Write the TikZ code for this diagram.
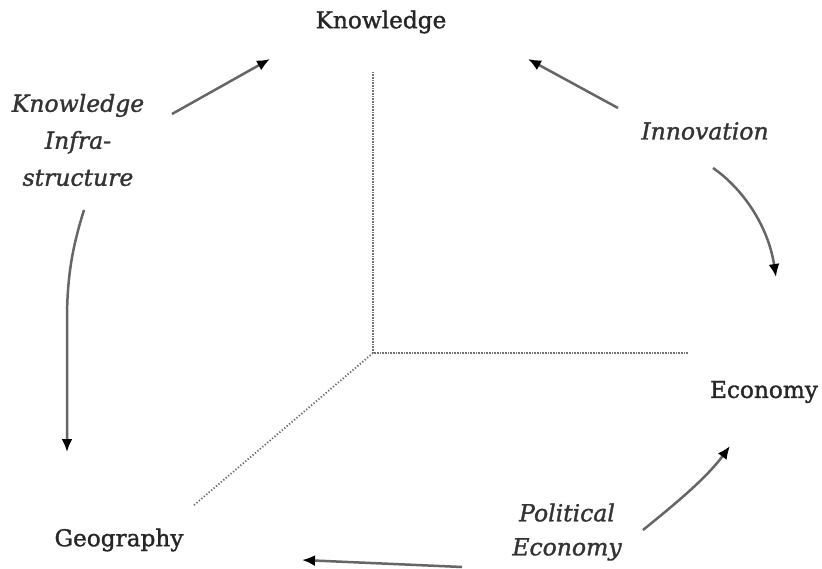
\documentclass[tikz,border=0pt]{standalone}
\usepackage{fontspec}
\setmainfont{DejaVu Serif}
\newfontfamily\heavyserif[FakeBold=1.3]{DejaVu Serif}
\usetikzlibrary{arrows.meta}
\begin{document}
\begin{tikzpicture}[x=1pt,y=-1pt,
  lbl/.style={font=\heavyserif\fontsize{23.2}{23}\selectfont, text=black!85, inner sep=0pt},
  ilbl/.style={font=\heavyserif\fontsize{23.5}{37}\selectfont\itshape, text=black!80, inner sep=0pt, align=center},
  ilbltwo/.style={ilbl, font=\heavyserif\fontsize{23.5}{34}\selectfont\itshape},
  arr/.style={draw=black!60, line width=2.5pt, -{Latex[length=13pt,width=11pt,color=black]}},
  axis/.style={draw=black!55, line width=2pt, dash pattern=on 0.8pt off 0.8pt},
  daxis/.style={draw=black!60, line width=1.8pt, dash pattern=on 1.2pt off 2pt}]
\useasboundingbox[fill=white] (0,0) rectangle (822,569);
% labels
\node[lbl] (K) at (381,22) {Knowledge};
\node[lbl] (E) at (764,392) {Economy};
\node[lbl] (G) at (119,540) {Geography};
\node[ilbl] (KI) at (78,140) {Knowledge\\Infra-\\structure};
\node[ilbltwo] (I) at (705,131) {Innovation};
\node[ilbltwo] (PE) at (567,532) {Political\\Economy};
% axes
\coordinate (O) at (373,353);
\coordinate (Otop) at (373,72);
\coordinate (Oright) at (688,353);
\coordinate (Odiag) at (193,506);
\draw[axis] (Otop) -- (O) -- (Oright);
\draw[daxis] (O) -- (Odiag);
% arrow end points
\coordinate (a1) at (172,114); \coordinate (b1) at (270,59);
\coordinate (a2) at (618,108); \coordinate (b2) at (528,59);
\coordinate (a3) at (713,168); \coordinate (b3) at (776,277);
\coordinate (a4) at (84,210);  \coordinate (b4) at (67,452);
\coordinate (a5) at (643,530); \coordinate (b5) at (730,446);
\coordinate (a6) at (462,567); \coordinate (b6) at (302,560);
% arrows
\draw[arr] (a1) -- (b1);
\draw[arr] (a2) -- (b2);
\draw[arr] (a3) .. controls (742,188) and (768,225) .. (b3);
\draw[arr] (a4) .. controls (73,245) and (67,275) .. (67,320) -- (b4);
\draw[arr] (a5) .. controls (670,508) and (705,480) .. (b5);
\draw[arr] (a6) -- (b6);
\end{tikzpicture}
\end{document}
